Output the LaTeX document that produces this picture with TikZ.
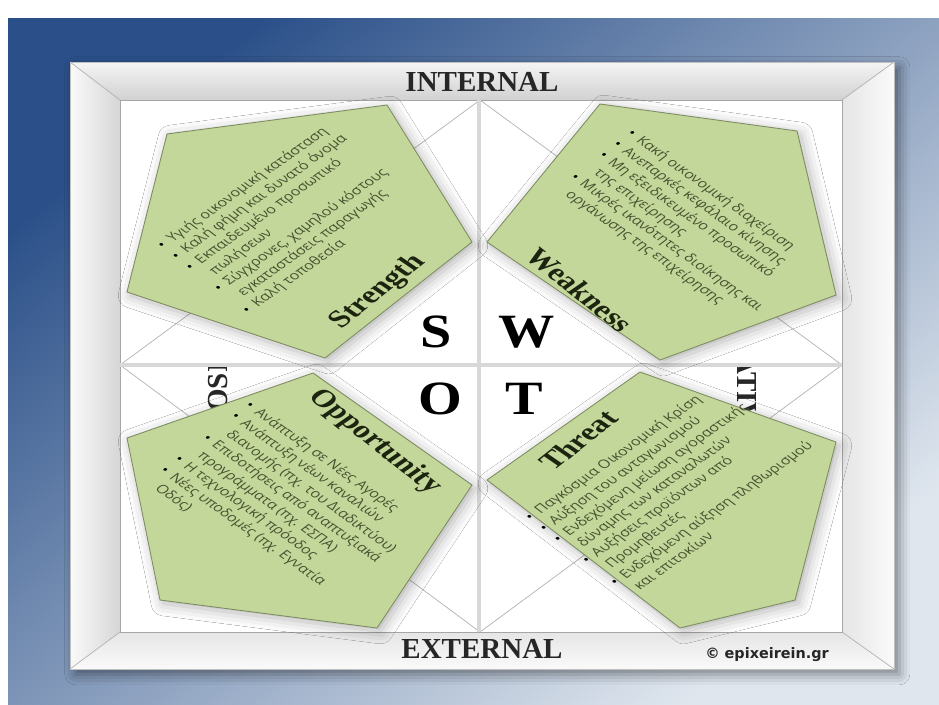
\documentclass[tikz,border=0pt]{standalone}
\usepackage{fontspec}
\setmainfont{Liberation Serif}
\newfontfamily\listfont{Open Sans}
\newfontfamily\markfont{DejaVu Sans}
\usetikzlibrary{shadows.blur}
\definecolor{bgtop}{HTML}{2B5089}
\definecolor{bgmid}{HTML}{8CA2C1}
\definecolor{bgbot}{HTML}{DFE6EE}
\definecolor{petalgreen}{HTML}{C4D79B}
\definecolor{petaledge}{HTML}{7E8C62}
\definecolor{listgray}{HTML}{46522F}
\definecolor{titledark}{HTML}{1C2410}
\definecolor{barcol}{HTML}{D8D8D8}
\newcommand{\swotitem}[1]{\textcolor{black}{\textbullet} & #1\\}
\newcommand{\swotcont}[1]{ & #1\\}
\begin{document}
\begin{tikzpicture}[x=0.02cm,y=-0.02cm,
  petal/.style={fill=petalgreen,draw=petaledge,line width=0.5pt,
    blur shadow={shadow xshift=2pt,shadow yshift=-2pt,shadow blur radius=7pt,shadow opacity=30}},
  squash/.style={yscale=0.735},
  blocktext/.style={anchor=north west,inner sep=0pt,text=listgray,
    font=\listfont\fontsize{9.2}{11.6}\selectfont},
  heading/.style={inner sep=0pt,text=titledark,font=\fontsize{19}{21}\selectfont\bfseries},
  swotletter/.style={inner sep=0pt,yscale=0.85,font=\fontsize{32}{34}\selectfont\bfseries},
  framelabel/.style={inner sep=0pt,text=black!85,font=\fontsize{16.5}{18}\selectfont\bfseries},
  diagline/.style={draw=black!30,line width=0.4pt}]
\useasboundingbox (0,0) rectangle (939,704);
% background
\fill[white] (0,0) rectangle (939,704);
\shade[top color=bgtop,middle color=bgmid,bottom color=bgbot,shading angle=40] (8,18) rectangle (939,704);
% frame
\fill[white!96!black,blur shadow={shadow xshift=3pt,shadow yshift=-3pt,shadow blur radius=6pt,shadow opacity=45}]
  (70,62) rectangle (894,669);
\shade[top color=white!96!black,middle color=white!93!black,bottom color=white!82!black] (70,62) -- (894,62) -- (842,100) -- (120,100) -- cycle;
\shade[left color=white!98!black,middle color=white!95!black,right color=white!84!black] (70,62) -- (120,100) -- (120,632) -- (70,669) -- cycle;
\shade[left color=white!90!black,right color=white!98!black] (894,62) -- (894,669) -- (842,632) -- (842,100) -- cycle;
\shade[top color=white!90!black,bottom color=white!98!black] (70,669) -- (120,632) -- (842,632) -- (894,669) -- cycle;
\draw[diagline] (70,62) -- (120,100) (894,62) -- (842,100) (70,669) -- (120,632) (894,669) -- (842,632);
\draw[black!25] (70,62) rectangle (894,669);
% panel
\fill[white] (120,100) rectangle (842,632);
\draw[black!35] (120,100) rectangle (842,632);
\draw[diagline] (120,365) -- (480,100) -- (842,365) -- (480,632) -- cycle;
\fill[barcol] (477,100) rectangle (481,632);
\fill[barcol] (120,363) rectangle (842,367);
% side words
\begin{scope}
  \clip (120,367) rectangle (477,632);
  \node[framelabel,rotate=90] (positive) at (218,360) {POSITIVE};
\end{scope}
\begin{scope}
  \clip (481,367) rectangle (842,632);
  \node[framelabel,rotate=-90] (negative) at (747,367) {NEGATIVE};
\end{scope}
% pentagons
\filldraw[petal] (167,134) -- (387,105) -- (472,242) -- (325,358) -- (127,292) -- cycle;
\filldraw[petal] (600,104) -- (797,131) -- (836,295) -- (660,360) -- (487,242) -- cycle;
\filldraw[petal] (313,373) -- (472,485) -- (377,628) -- (160,600) -- (127,438) -- cycle;
\filldraw[petal] (640,372) -- (836,442) -- (795,600) -- (680,628) -- (487,480) -- cycle;
% lists
\node[blocktext,squash,rotate=44] (s-list) at (153,242) {\begin{tabular}{@{}l@{\hspace{4pt}}l@{}}
  \swotitem{Υγιής οικονομική κατάσταση}
  \swotitem{Καλή φήμη και δυνατό όνομα}
  \swotitem{Εκπαιδευμένο προσωπικό}
  \swotcont{πωλήσεων}
  \swotitem{Σύγχρονες, χαμηλού κόστους}
  \swotcont{εγκαταστάσεις παραγωγής}
  \swotitem{Καλή τοποθεσία}
\end{tabular}};
\node[blocktext,squash,rotate=-44] (w-list) at (636,127) {\begin{tabular}{@{}l@{\hspace{4pt}}l@{}}
  \swotitem{Κακή οικονομική διαχείριση}
  \swotitem{Ανεπαρκές κεφάλαιο κίνησης}
  \swotitem{Μη εξειδικευμένο προσωπικό}
  \swotcont{της επιχείρησης}
  \swotitem{Μικρές ικανότητες διοίκησης και}
  \swotcont{οργάνωσης της επιχείρησης}
\end{tabular}};
\node[blocktext,squash,rotate=-44] (o-list) at (254,399) {\begin{tabular}{@{}l@{\hspace{4pt}}l@{}}
  \swotitem{Ανάπτυξη σε Νέες Αγορές}
  \swotitem{Ανάπτυξη νέων καναλιών}
  \swotcont{διανομής (πχ. του Διαδικτύου)}
  \swotitem{Επιδοτήσεις από αναπτυξιακά}
  \swotcont{προγράμματα (πχ. ΕΣΠΑ)}
  \swotitem{Η τεχνολογική πρόοδος}
  \swotitem{Νέες υποδομές (πχ. Εγνατία}
  \swotcont{Οδός)}
\end{tabular}};
\node[blocktext,squash,rotate=44] (t-list) at (521,514) {\begin{tabular}{@{}l@{\hspace{4pt}}l@{}}
  \swotitem{Παγκόσμια Οικονομική Κρίση}
  \swotitem{Αύξηση του ανταγωνισμού}
  \swotitem{Ενδεχόμενη μείωση αγοραστικής}
  \swotcont{δύναμης των καταναλωτών}
  \swotitem{Αυξήσεις προϊόντων από}
  \swotcont{Προμηθευτές}
  \swotitem{Ενδεχόμενη αύξηση πληθωρισμού}
  \swotcont{και επιτοκίων}
\end{tabular}};
% headings
\node[heading,squash,rotate=47] (s-head) at (378,292) {Strength};
\node[heading,squash,rotate=-47] (w-head) at (580,290) {Weakness};
\node[heading,squash,rotate=-47] (o-head) at (375,442) {Opportunity};
\node[heading,squash,rotate=47] (t-head) at (578,440) {Threat};
% letters
\node[swotletter] (S) at (436,332) {S};
\node[swotletter] (W) at (527,332) {W};
\node[swotletter] (O) at (440,399) {O};
\node[swotletter] (T) at (524,399) {T};
\node[framelabel] (internal) at (482,82) {INTERNAL};
\node[framelabel] (external) at (482,649) {EXTERNAL};
\node[inner sep=0pt,text=black!85,font=\markfont\bfseries\fontsize{8.2}{10}\selectfont] (credit) at (767,655) {© epixeirein.gr};
\end{tikzpicture}
\end{document}
